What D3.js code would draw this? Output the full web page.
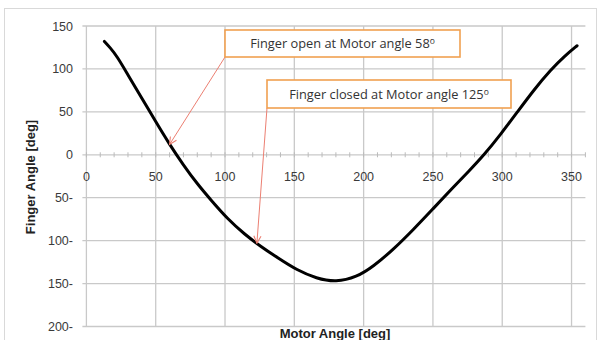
<!DOCTYPE html>
<html>
<head>
<meta charset="utf-8">
<script src="https://cdn.jsdelivr.net/npm/d3@7"></script>
<style>
  body { margin: 0; background: #fff; }
  text { font-family: "Liberation Sans", Arial, sans-serif; }
</style>
</head>
<body>
<div id="chart"></div>
<script>
// motor angle vs finger angle
var motorAngle  = [13, 17, 22, 30, 40, 50, 60, 70, 80, 90, 102, 114, 126, 138, 152, 166, 180, 195, 207, 221, 236, 250, 264, 276, 287, 299, 311, 323, 335, 345, 354];
var fingerAngle = [132, 125, 115, 93, 66, 38.5, 12, -12, -34, -53, -75, -92.5, -107, -120, -134.5, -144, -148.5, -142.5, -130, -111, -87, -63, -39, -19, 0, 24, 50, 76, 99, 115, 127];

var xTicks = [0, 50, 100, 150, 200, 250, 300, 350];
var yTicks = [150, 100, 50, 0, -50, -100, -150, -200];

var xTitle = "Motor Angle [deg]";
var yTitle = "Finger Angle [deg]";

var noteText  = ["Finger open at Motor angle 58", "Finger closed at Motor angle 125"];
var notePoint = [[60, 12], [123, -103]];

var w = 598;
var h = 340;

var x = d3.scaleLinear()
	.domain([0, 360])
	.range([86.4, 585.4]);

var y = d3.scaleLinear()
	.domain([-200, 150])
	.range([326.5, 26]);

var svg = d3.select("#chart")
	.append("svg")
	.attr("width", w)
	.attr("height", h);

// outer frame
svg.append("rect")
	.attr("x", 4.5).attr("y", 8.5)
	.attr("width", 592).attr("height", 340)
	.style("fill", "none")
	.style("stroke", "#d9d9d9");

var grid = svg.append("g").style("stroke", "#c9c9c9").style("stroke-width", 1.3);

grid.selectAll(".hg")
	.data(yTicks)
	.enter()
	.append("line")
	.attr("x1", x(0) - 4)
	.attr("x2", x(360))
	.attr("y1", function(d){return y(d)})
	.attr("y2", function(d){return y(d)});

grid.selectAll(".vg")
	.data(xTicks)
	.enter()
	.append("line")
	.attr("x1", function(d){return x(d)})
	.attr("x2", function(d){return x(d)})
	.attr("y1", y(150))
	.attr("y2", y(-200));

// minor ticks on the zero line
grid.selectAll(".mt")
	.data(d3.range(0, 361, 10))
	.enter()
	.append("line")
	.attr("x1", function(d){return x(d)})
	.attr("x2", function(d){return x(d)})
	.attr("y1", y(0) - 2.5)
	.attr("y2", y(0) + 2.5)
	.style("stroke", "#bbb")
	.style("stroke-width", 1);

// y labels, negatives written as "50-"
svg.selectAll(".yl")
	.data(yTicks)
	.enter()
	.append("text")
	.attr("x", 73)
	.attr("y", function(d){return y(d)})
	.attr("dy", "0.36em")
	.attr("text-anchor", "end")
	.style("font-size", "12.5px")
	.style("fill", "#3a3a3a")
	.text(function(d){return d < 0 ? (-d) + "-" : d});

svg.selectAll(".xl")
	.data(xTicks)
	.enter()
	.append("text")
	.attr("x", function(d){return x(d)})
	.attr("y", y(0) + 26)
	.attr("text-anchor", "middle")
	.style("font-size", "12.5px")
	.style("fill", "#3a3a3a")
	.text(function(d){return d});

// curve
var line = d3.line()
	.x(function(d, i){return x(motorAngle[i])})
	.y(function(d){return y(d)})
	.curve(d3.curveBasis);

svg.append("path")
	.datum(fingerAngle)
	.attr("d", line)
	.style("fill", "none")
	.style("stroke", "#000")
	.style("stroke-width", 3)
	.style("stroke-linecap", "round")
	.style("stroke-linejoin", "round");

// titles
svg.append("text")
	.attr("x", 335)
	.attr("y", 338)
	.attr("text-anchor", "middle")
	.style("font-size", "13px")
	.style("font-weight", "bold")
	.style("fill", "#222")
	.text(xTitle);

svg.append("text")
	.attr("transform", "translate(35,177) rotate(-90)")
	.attr("text-anchor", "middle")
	.style("font-size", "13px")
	.style("font-weight", "bold")
	.style("fill", "#222")
	.text(yTitle);

// annotations
svg.append("defs").append("marker")
	.attr("id", "arr")
	.attr("viewBox", "0 0 10 10")
	.attr("refX", 9).attr("refY", 5)
	.attr("markerWidth", 9).attr("markerHeight", 9)
	.attr("markerUnits", "userSpaceOnUse")
	.attr("orient", "auto")
	.append("path")
	.attr("d", "M1,1 L9,5 L1,9")
	.style("fill", "none")
	.style("stroke", "#ec7f72")
	.style("stroke-width", 1.2);

var boxes = [[225, 30, 235, 27], [267, 80, 244, 28]];

boxes.forEach(function(b, i){
	svg.append("line")
		.attr("x1", b[0]).attr("y1", b[1] + b[3])
		.attr("x2", x(notePoint[i][0])).attr("y2", y(notePoint[i][1]))
		.style("stroke", "#ec7f72")
		.style("stroke-width", 1)
		.attr("marker-end", "url(#arr)");

	svg.append("rect")
		.attr("x", b[0]).attr("y", b[1])
		.attr("width", b[2]).attr("height", b[3])
		.style("fill", "#fff")
		.style("stroke", "#f0a050")
		.style("stroke-width", 1.6);

	var t = svg.append("text")
		.attr("x", b[0] + b[2] / 2)
		.attr("y", b[1] + b[3] / 2)
		.attr("dy", "0.36em")
		.attr("text-anchor", "middle")
		.style("font-family", "'Open Sans', sans-serif")
		.style("font-size", "12.8px")
		.style("fill", "#333");
	t.append("tspan").text(noteText[i]);
	t.append("tspan")
		.attr("dy", "-0.45em")
		.style("font-size", "8.5px")
		.text("o");
});
</script>
</body>
</html>
